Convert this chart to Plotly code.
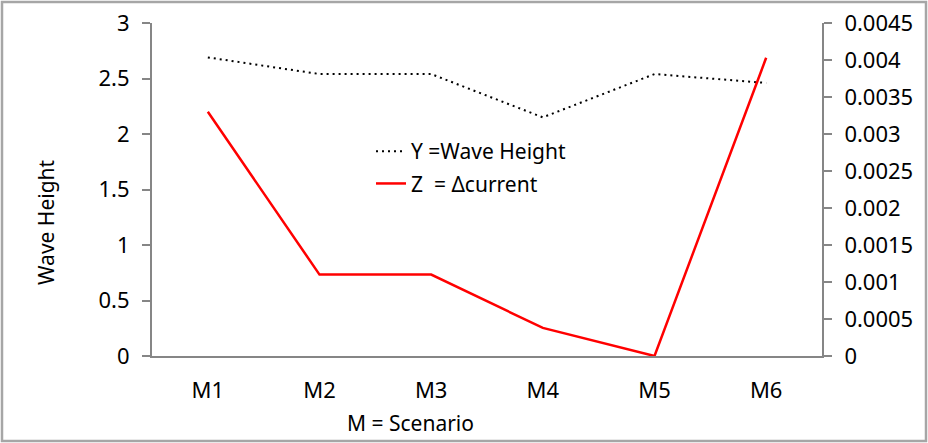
import plotly.graph_objects as go

categories = ["M1", "M2", "M3", "M4", "M5", "M6"]
wave_height = [2.69, 2.54, 2.54, 2.15, 2.54, 2.46]
delta_current = [0.0033, 0.0011, 0.0011, 0.00038, 0.0, 0.00403]
left_ticks = [0, 0.5, 1, 1.5, 2, 2.5, 3]
right_ticks = [0, 0.0005, 0.001, 0.0015, 0.002, 0.0025, 0.003, 0.0035, 0.004, 0.0045]
right_tick_text = ["0", "0.0005", "0.001", "0.0015", "0.002", "0.0025", "0.003", "0.0035", "0.004", "0.0045"]
left_tick_text = ["0", "0.5", "1", "1.5", "2", "2.5", "3"]

W, H = 928, 443
L, R, T, B = 152, 106, 23, 87
pw, ph = W - L - R, H - T - B

def px(x):
    return (x - L) / pw

def py(y):
    return (H - B - y) / ph

FONT = "Noto Sans"
FS = 22
AX = "#868686"

fig = go.Figure()
fig.add_trace(go.Scatter(
    x=categories, y=wave_height, mode="lines", name="Y =Wave Height",
    line=dict(color="black", width=2, dash="2px,4px"), legendgroup="a"))
fig.add_trace(go.Scatter(
    x=categories, y=delta_current, mode="lines", name="Z  = Δcurrent",
    line=dict(color="#FF0000", width=2.5), yaxis="y2", legendgroup="b"))

fig.update_layout(
    width=W, height=H,
    margin=dict(l=L, r=R, t=T, b=B, autoexpand=False),
    paper_bgcolor="white", plot_bgcolor="white",
    font=dict(family=FONT, size=FS, color="black"),
    showlegend=True,
    legend=dict(x=px(371), y=py(131), xanchor="left", yanchor="top",
                bgcolor="rgba(0,0,0,0)", font=dict(size=FS - 1, family=FONT),
                tracegroupgap=2, itemwidth=30),
    xaxis=dict(type="category", range=[-0.5, 5.5], showgrid=False,
               showline=True, linecolor=AX, linewidth=2, ticks="",
               ticklabelstandoff=14, zeroline=False, automargin=False,
               tickfont=dict(size=FS, family=FONT)),
    yaxis=dict(range=[0, 3], tickvals=left_ticks, ticktext=left_tick_text,
               showgrid=False, zeroline=False, showline=True, linecolor=AX,
               linewidth=2, ticks="outside", ticklen=8, tickcolor=AX, tickwidth=2,
               ticklabelstandoff=8, automargin=False,
               tickfont=dict(size=FS, family=FONT)),
    yaxis2=dict(range=[0, 0.0045], tickvals=right_ticks, ticktext=right_tick_text,
                overlaying="y", side="right", showgrid=False, zeroline=False,
                showline=True, linecolor=AX, linewidth=2, ticks="outside",
                ticklen=8, tickcolor=AX, tickwidth=2, ticklabelstandoff=8,
                automargin=False, tickfont=dict(size=FS, family=FONT)),
    shapes=[dict(type="rect", xref="paper", yref="paper",
                 x0=px(2), x1=px(926), y0=py(441), y1=py(2),
                 line=dict(color="#A6A6A6", width=2.5), fillcolor="rgba(0,0,0,0)",
                 layer="below")],
    annotations=[
        dict(text="Wave Height", xref="paper", yref="paper", x=px(46), y=py(222),
             showarrow=False, textangle=-90, font=dict(size=FS - 1, family=FONT),
             xanchor="center", yanchor="middle"),
        dict(text="M = Scenario", xref="paper", yref="paper", x=px(410), y=py(423),
             showarrow=False, font=dict(size=FS - 1, family=FONT),
             xanchor="center", yanchor="middle"),
    ],
)

fig.write_html("out.html", config={"displayModeBar": False},
               post_script="document.body.style.margin='0';document.body.style.overflow='hidden';")
